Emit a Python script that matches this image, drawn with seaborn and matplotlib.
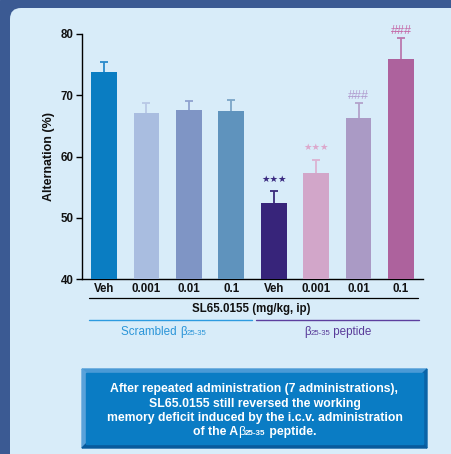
import matplotlib
matplotlib.use("Agg")
import matplotlib.pyplot as plt
from matplotlib.patches import Polygon, FancyBboxPatch, Rectangle
import numpy as np
import pandas as pd
import seaborn as sns

# Y-maze spontaneous alternation after repeated SL65.0155 dosing
groups = ["Scrambled", "Scrambled", "Scrambled", "Scrambled",
          "Peptide", "Peptide", "Peptide", "Peptide"]
doses = ["Veh", "0.001", "0.01", "0.1", "Veh", "0.001", "0.01", "0.1"]
alternation = [73.8, 67.1, 67.6, 67.4, 52.4, 57.3, 66.3, 75.9]
sem = [1.7, 1.7, 1.4, 1.9, 1.9, 2.1, 2.4, 3.4]
marks = ["", "", "", "", "★★★", "★★★", "###", "###"]

bar_colors = ["#0a7dc2", "#a9bde0", "#7f95c5", "#5f93bd",
              "#37247a", "#d2a6c9", "#aa9ac5", "#ad629d"]
err_colors = ["#2a8acb", "#b8c8e6", "#8fa2cf", "#7ca6c8",
              "#3a2a7a", "#dcb2d2", "#b3a2cb", "#bb78ae"]
mark_colors = ["", "", "", "", "#3a2a80", "#dca8cc", "#b09ccf", "#c466a6"]

df = pd.DataFrame({
    "slot": [f"{g}-{d}" for g, d in zip(groups, doses)],
    "alternation": alternation,
})

sns.set_theme(style="white")
plt.rcParams["font.family"] = ["Liberation Sans", "DejaVu Sans"]

W, H = 452, 454
fig = plt.figure(figsize=(W / 100, H / 100), dpi=100)

# pixel-space layer for background, brackets and caption box
bg = fig.add_axes([0, 0, 1, 1], zorder=0)
bg.set_xlim(0, W)
bg.set_ylim(H, 0)
bg.axis("off")
bg.add_patch(Rectangle((0, 0), W, H, color="#3b5a93", zorder=0))
bg.add_patch(FancyBboxPatch((10, 8), W + 40, H + 40,
                            boxstyle="round,pad=0,rounding_size=11",
                            facecolor="#d8ecf9", edgecolor="none", zorder=1))

ax = fig.add_axes([82 / W, 1 - 279 / H, (423 - 82) / W, (279 - 34) / H], zorder=2)
ax.patch.set_alpha(0)

sns.barplot(data=df, x="slot", y="alternation", hue="slot",
            palette=bar_colors, saturation=1, width=0.61, linewidth=0,
            legend=False, errorbar=None, ax=ax, zorder=3)

cap = 0.095
for i, (v, e) in enumerate(zip(alternation, sem)):
    ax.vlines(i, v, v + e, color=err_colors[i], lw=1.3, zorder=2)
    ax.hlines(v + e, i - cap, i + cap, color=err_colors[i], lw=1.3, zorder=2)
    if marks[i]:
        if marks[i].startswith("★"):
            ax.text(i, v + e + 2.0, marks[i], ha="center", va="center",
                    fontsize=6.8, family="DejaVu Sans", color=mark_colors[i])
        else:
            ax.text(i, v + e + 1.2, marks[i], ha="center", va="center",
                    fontsize=9, color=mark_colors[i])

ax.set_ylim(40, 80)
ax.set_xlim(-0.52, 7.52)
ax.set_yticks([40, 50, 60, 70, 80])
ax.set_xticks(range(len(doses)))
ax.set_xticklabels(doses, fontsize=8.3, fontweight="bold", color="#111111")
for lab in ax.get_yticklabels():
    lab.set_fontweight("bold")
    lab.set_fontsize(8.3)
    lab.set_color("#111111")
ax.tick_params(axis="x", length=0, pad=3)
ax.tick_params(axis="y", length=4, width=1, color="black", pad=2, left=True)
ax.set_xlabel("")
ax.set_ylabel("Alternation (%)", fontsize=9, fontweight="bold",
              color="#111111", labelpad=4)
sns.despine(ax=ax)
for s in ("left", "bottom"):
    ax.spines[s].set_color("black")
    ax.spines[s].set_linewidth(1)

# dose bracket and group lines
bg.plot([89, 418], [298, 298], color="black", lw=0.9, zorder=3)
bg.text(251, 309, "SL65.0155 (mg/kg, ip)", ha="center", va="center",
        fontsize=8.3, fontweight="bold", color="#111111", zorder=3)
bg.plot([89, 252], [320, 320], color="#2d9be0", lw=1.0, zorder=3)
bg.plot([256, 419], [320, 320], color="#5d3f9e", lw=1.0, zorder=3)

renderer = fig.canvas.get_renderer()


def draw_runs(xc, y, runs, zorder=6):
    """Place text runs side by side, centred on xc (pixel coordinates)."""
    items = []
    for txt, size, weight, color, dy in runs:
        t = bg.text(0, y + dy, txt, fontsize=size, fontweight=weight,
                    color=color, ha="left", va="baseline", zorder=zorder)
        w = t.get_window_extent(renderer=renderer).width
        items.append((t, w))
    total = sum(w for _, w in items)
    x = xc - total / 2
    for t, w in items:
        t.set_x(x)
        x += w


blue_txt = "#2b95d8"
purple_txt = "#5a3c9a"
draw_runs(164, 335, [("Scrambled ", 8.4, "normal", blue_txt, 0),
                     ("β", 8.4, "normal", blue_txt, 0),
                     ("25-35", 5.6, "normal", blue_txt, 0)])
draw_runs(338, 335, [("β", 8.4, "normal", purple_txt, 0),
                     ("25-35", 5.6, "normal", purple_txt, 0),
                     (" peptide", 8.4, "normal", purple_txt, 0)])

# bevelled caption box
x0, x1, y0, y1, b = 82, 427, 369, 448, 4
bg.add_patch(Polygon([(x0, y0), (x1, y0), (x1 - b, y0 + b), (x0 + b, y0 + b)],
                     closed=True, color="#4a9ad6", zorder=4))
bg.add_patch(Polygon([(x0, y0), (x0 + b, y0 + b), (x0 + b, y1 - b), (x0, y1)],
                     closed=True, color="#5aa2da", zorder=4))
bg.add_patch(Polygon([(x1, y0), (x1, y1), (x1 - b, y1 - b), (x1 - b, y0 + b)],
                     closed=True, color="#0a64a8", zorder=4))
bg.add_patch(Polygon([(x0, y1), (x1, y1), (x1 - b, y1 - b), (x0 + b, y1 - b)],
                     closed=True, color="#085a9c", zorder=4))
bg.add_patch(Rectangle((x0 + b, y0 + b), x1 - x0 - 2 * b, y1 - y0 - 2 * b,
                       color="#0a7cc4", zorder=4))

xc = (x0 + x1) / 2
caption = ["After repeated administration (7 administrations),",
           "SL65.0155 still reversed the working",
           "memory deficit induced by the i.c.v. administration"]
for k, line in enumerate(caption):
    draw_runs(xc, 392 + 14.5 * k, [(line, 8.8, "bold", "white", 0)])
draw_runs(xc, 435, [("of the A", 8.8, "bold", "white", 0),
                    ("β", 8.8, "normal", "white", 0),
                    ("25-35", 5.8, "bold", "white", 0),
                    (" peptide.", 8.8, "bold", "white", 0)])

fig.savefig("out.png", dpi=100)
